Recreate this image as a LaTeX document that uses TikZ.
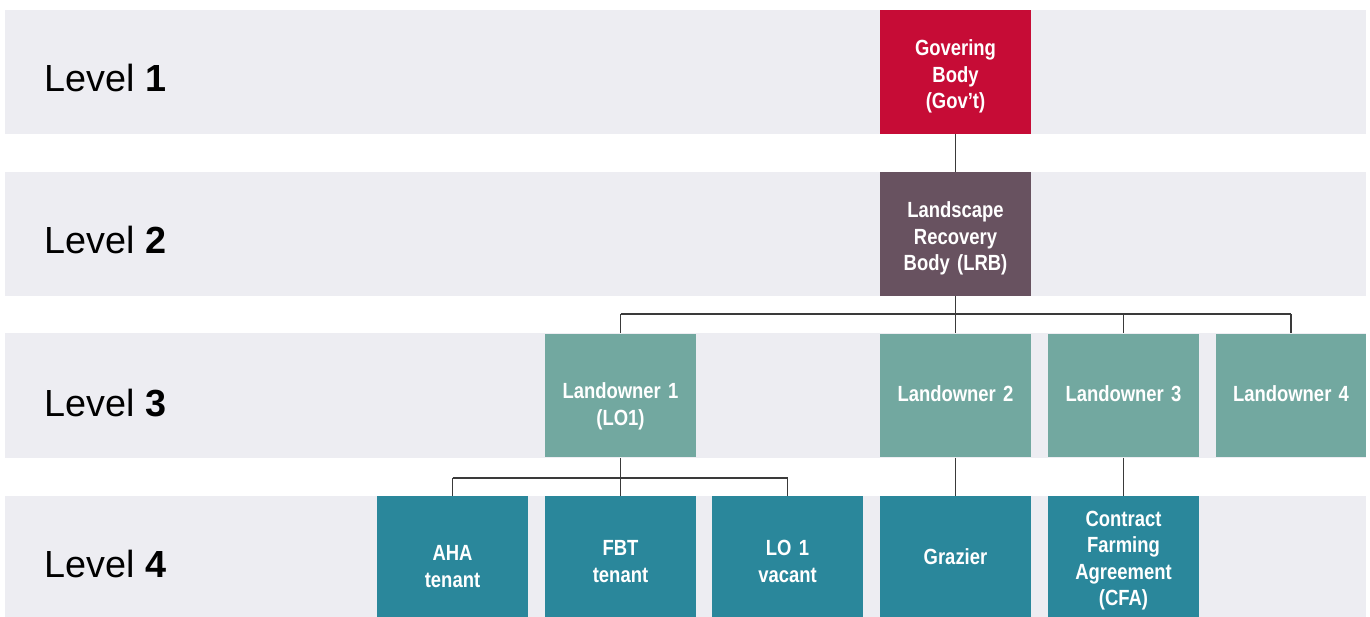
\documentclass[tikz,border=0pt]{standalone}
\usepackage{fontspec}
\setmainfont{Liberation Sans}
\newfontfamily\boxfont[FakeStretch=0.84]{Liberation Sans}
\usetikzlibrary{positioning}

\definecolor{bandgrey}{HTML}{EDEDF2}
\definecolor{govred}{HTML}{C60C36}
\definecolor{lrbplum}{HTML}{685260}
\definecolor{ownersage}{HTML}{72A8A0}
\definecolor{tenantteal}{HTML}{2A879B}
\definecolor{linkgrey}{HTML}{3A3A3A}

\tikzset{
  band/.style={fill=bandgrey, draw=none},
  unit/.style={draw=none, minimum width=3.02cm, minimum height=2.48cm, inner sep=0pt},
  boxtext/.style={text width=2.8cm, align=center, text=white, inner sep=0pt,
    font=\boxfont\bfseries\fontsize{12.5}{15}\selectfont},
  govbox/.style={unit, fill=govred},
  lrbbox/.style={unit, fill=lrbplum},
  ownerbox/.style={unit, fill=ownersage},
  tenantbox/.style={unit, fill=tenantteal, minimum height=2.82cm},
  levellabel/.style={anchor=west, inner sep=0pt, font=\fontsize{21.5}{26}\selectfont},
  link/.style={draw=linkgrey, line width=0.6pt}
}

\begin{document}
\begin{tikzpicture}[x=0.02cm, y=-0.02cm]
      \useasboundingbox (0,0) rectangle (1370,617);
      \clip (0,0) rectangle (1370,617);

      % Background bands
      \fill[band] (5,10) rectangle (1366,134);
      \fill[band] (5,172) rectangle (1366,296);
      \fill[band] (5,333) rectangle (1366,458);
      \fill[band] (5,496) rectangle (1366,617);

      % Level labels
      \node[levellabel] (lev1) at (44,78) {Level \textbf{1}};
      \node[levellabel] (lev2) at (44,240) {Level \textbf{2}};
      \node[levellabel] (lev3) at (44,403) {Level \textbf{3}};
      \node[levellabel] (lev4) at (44,564) {Level \textbf{4}};

      % Level 1 and 2
      \node[govbox] (gov) at (955.5,72) {};
      \node[lrbbox] (lrb) at (955.5,234) {};
      \node[boxtext] at ([yshift=-0.09cm]gov.center) {Govering\\Body\\(Gov’t)};
      \node[boxtext] at ([yshift=-0.09cm]lrb.center) {Landscape\\Recovery\\Body (LRB)};

      % Level 3
      \node[ownerbox] (lo1) at (620.5,395.5) {};
      \node[ownerbox] (lo2) at (955.5,395.5) {};
      \node[ownerbox] (lo3) at (1123.5,395.5) {};
      \node[ownerbox] (lo4) at (1291,395.5) {};
      \node[boxtext] at ([yshift=-0.22cm]lo1.center) {Landowner 1\\(LO1)};
      \node[boxtext] at ([yshift=0.03cm]lo2.center) {Landowner 2};
      \node[boxtext] at ([yshift=0.03cm]lo3.center) {Landowner 3};
      \node[boxtext] at ([yshift=0.03cm]lo4.center) {Landowner 4};

      % Level 4
      \node[tenantbox] (aha) at (452.5,566.5) {};
      \node[tenantbox] (fbt) at (620.5,566.5) {};
      \node[tenantbox] (vacant) at (787.5,566.5) {};
      \node[tenantbox] (grazier) at (955.5,566.5) {};
      \node[tenantbox] (cfa) at (1123.5,566.5) {};
      \node[boxtext] at (aha.center) {AHA\\tenant};
      \node[boxtext] at ([yshift=0.1cm]fbt.center) {FBT\\tenant};
      \node[boxtext] at ([yshift=0.1cm]vacant.center) {LO 1\\vacant};
      \node[boxtext] at ([yshift=0.2cm]grazier.center) {Grazier};
      \node[boxtext] at ([yshift=0.12cm]cfa.center) {Contract\\Farming\\Agreement\\(CFA)};

      % Connectors
      \coordinate (bus3) at (955.5,314);
      \coordinate (bus4) at (620.5,478);
      \draw[link] (gov.south) -- (lrb.north);
      \draw[link] (lrb.south) -- (bus3);
      \draw[link] (bus3 -| lo1) -- (bus3 -| lo4);
      \foreach \n in {lo1,lo2,lo3,lo4}
        \draw[link] (bus3 -| \n) -- (\n.north);
      \draw[link] (lo1.south) -- (bus4);
      \draw[link] (bus4 -| aha) -- (bus4 -| vacant);
      \foreach \n in {aha,fbt,vacant}
        \draw[link] (bus4 -| \n) -- (\n.north);
      \draw[link] (lo2.south) -- (grazier.north);
      \draw[link] (lo3.south) -- (cfa.north);
    \end{tikzpicture}
\end{document}
